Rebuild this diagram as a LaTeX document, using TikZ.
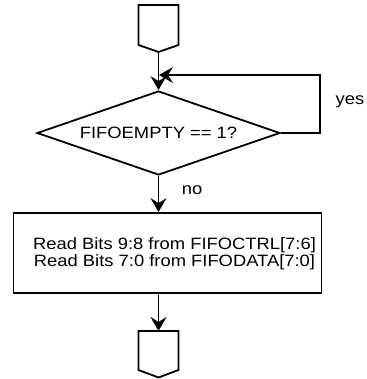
\documentclass[tikz,border=0pt]{standalone}
\usepackage{fontspec}
\setmainfont{Liberation Sans}[FakeStretch=1.12]
\usetikzlibrary{arrows.meta,shapes.geometric}
\begin{document}
\begin{tikzpicture}[x=1pt,y=-1pt,
  line/.style={line width=1.8pt, line join=miter},
  arr/.style={line, -{Stealth[length=14pt,width=16pt,inset=5pt]}},
  txt/.style={font=\fontsize{16.4}{17}\selectfont, inner sep=0pt},
  decision/.style={diamond, draw, line, minimum width=243pt, minimum height=84pt, inner sep=0pt, aspect=2.9, font=\fontsize{16.4}{17}\selectfont},
  procbox/.style={rectangle, draw, line, minimum width=308pt, minimum height=80pt, inner sep=0pt}]
\useasboundingbox (0,0) rectangle (366,379);
% top off-page connector
\draw[line] (138.5,5) -- (178.5,5) -- (178.5,45) -- (158.5,52) -- (138.5,45) -- cycle;
\coordinate (toptip) at (158.5,52);
% decision
\node[decision] (dia) at (158.5,133) {FIFOEMPTY == 1?};
% process box
\node[procbox] (rd) at (167.5,253) {};
\node[txt, align=center] (rdtext) at (174.5,254) {Read Bits 9:8 from FIFOCTRL[7:6]\\Read Bits 7:0 from FIFODATA[7:0]};
% bottom off-page connector
\draw[line] (138.5,331) -- (178.5,331) -- (178.5,370) -- (158.5,377.5) -- (138.5,370) -- cycle;
\coordinate (bottop) at (158.5,331);
% connectors
\draw[arr] (toptip) -- (dia.north);
\coordinate (loopend) at (159,75);
\coordinate (loopcorner) at (320,133);
\draw[arr] (dia.east) -- (loopcorner) |- (loopend);
\draw[arr] (dia.south) -- (rd.north -| dia.south);
\coordinate (rdbot) at (158.5,293);
\draw[arr] (rdbot) -- (bottop);
% labels
\node[txt] (yes) at (350,102) {yes};
\node[txt] (no) at (192,190) {no};
\end{tikzpicture}
\end{document}
